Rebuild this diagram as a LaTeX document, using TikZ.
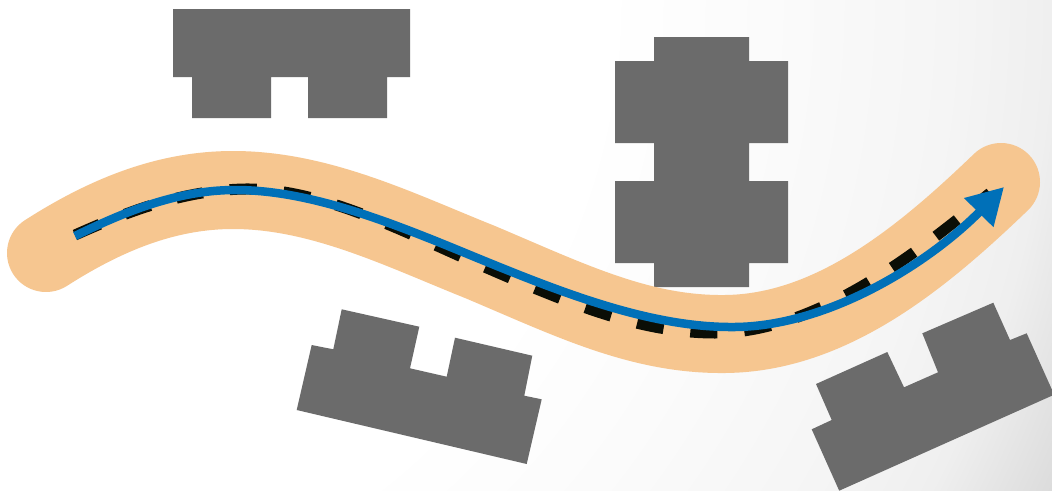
\documentclass[tikz,border=0pt]{standalone}
\usetikzlibrary{arrows.meta}
\definecolor{shapegray}{RGB}{107,107,107}
\definecolor{bandorange}{RGB}{246,198,144}
\definecolor{lineblue}{RGB}{0,112,184}
\definecolor{dashblack}{RGB}{11,14,6}
\definecolor{bgA}{RGB}{251,251,251}
\definecolor{bgB}{RGB}{245,245,245}
\definecolor{bgC}{RGB}{239,239,239}
\definecolor{bgD}{RGB}{220,220,220}
\pgfdeclareradialshading{bgshade}{\pgfpoint{0bp}{0bp}}{color(0bp)=(white); color(12.5bp)=(white); color(16bp)=(bgA); color(19.8bp)=(bgB); color(21.9bp)=(bgC); color(24.15bp)=(bgD); color(50bp)=(bgD)}
\begin{document}
\begin{tikzpicture}[x=1pt,y=-1pt,
  building/.style={fill=shapegray},
  band/.style={draw=bandorange,line width=78pt,line cap=round,line join=round},
  dashline/.style={draw=dashblack,line width=11pt,dash pattern=on 27pt off 27pt},
  blueline/.style={draw=lineblue,line width=8.5pt,-{Triangle[length=36pt,width=39pt]}}]
\useasboundingbox (0,0) rectangle (1052,490);
\begin{scope}
\clip (0,0) rectangle (1052,490);
\shade[shading=bgshade] (0,0) circle[radius=1200pt];
% top-left building
\fill[building] (173,9) -- (410,9) -- (410,77) -- (387,77) -- (387,118) -- (308,118) -- (308,77)
  -- (271,77) -- (271,118) -- (192,118) -- (192,77) -- (173,77) -- cycle;
% middle building
\fill[building] (654,37) -- (749,37) -- (749,61) -- (788,61) -- (788,143) -- (749,143) -- (749,181)
  -- (788,181) -- (788,263) -- (749,263) -- (749,287) -- (654,287) -- (654,263) -- (615,263)
  -- (615,181) -- (654,181) -- (654,143) -- (615,143) -- (615,61) -- (654,61) -- cycle;
% bottom-left building
\fill[building] (341.7,309.3) -- (419.3,326.7) -- (410,368.3) -- (446.7,376.7) -- (455,337.7)
  -- (532.3,355.7) -- (524.3,395.7) -- (541.7,399.3) -- (526.7,464) -- (296.7,410)
  -- (311.7,345) -- (333.3,349.3) -- cycle;
% bottom-right building
\fill[building] (811.7,429.3) -- (831.7,420) -- (816,384) -- (887.3,352) -- (904,387.3)
  -- (938,372.3) -- (922.3,333.3) -- (993.3,302.7) -- (1010,340) -- (1026.7,333.3)
  -- (1054.2,394.7) -- (839.2,490.7) -- cycle;
\end{scope}
\coordinate (bandstart) at (46,253);
\coordinate (bandend) at (1001,182);
\coordinate (routestart) at (75,236);
\coordinate (routeend) at (1004,187);
\draw[band] (bandstart) .. controls (110,212) and (170,190) .. (233,190)
  .. controls (320,190) and (400,230) .. (480,262)
  .. controls (570,300) and (640,335) .. (725,334)
  .. controls (830,333) and (920,260) .. (bandend);
\draw[dashline] (75,235) .. controls (120,215) and (180,190) .. (245,189)
  .. controls (320,188) and (400,230) .. (480,265)
  .. controls (570,304) and (640,333) .. (715,333)
  .. controls (815,333) and (915,255) .. (990,193);
\draw[blueline] (routestart) .. controls (120,214) and (175,190) .. (235,190)
  .. controls (310,190) and (390,222) .. (470,255)
  .. controls (560,292) and (650,328) .. (735,327)
  .. controls (830,326) and (930,262) .. (routeend);
\end{tikzpicture}
\end{document}
